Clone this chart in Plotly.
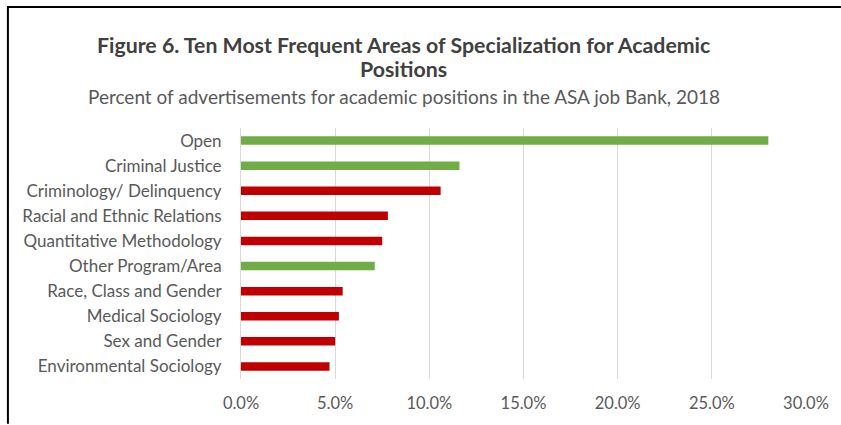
import plotly.graph_objects as go

categories = ["Open", "Criminal Justice", "Criminology/ Delinquency", "Racial and Ethnic Relations",
              "Quantitative Methodology", "Other Program/Area", "Race, Class and Gender",
              "Medical Sociology", "Sex and Gender", "Environmental Sociology"]
values = [28.0, 11.6, 10.6, 7.8, 7.5, 7.1, 5.4, 5.2, 5.0, 4.7]
groups = ["open", "open", "spec", "spec", "spec", "open", "spec", "spec", "spec", "spec"]
color_map = {"open": "#70AD47", "spec": "#C00000"}
tick_vals = [0, 5, 10, 15, 20, 25, 30]
tick_text = ["0.0%", "5.0%", "10.0%", "15.0%", "20.0%", "25.0%", "30.0%"]

W, H = 841, 425
L, R, T, B = 241, 34, 128, 44
ph = H - T - B

def py(ypix):
    return (H - B - ypix) / ph

def px(xpix):
    return (xpix - L) / (W - L - R)

fig = go.Figure(go.Bar(
    x=values, y=categories, orientation="h",
    marker=dict(color=[color_map[g] for g in groups], line=dict(width=0)),
    hoverinfo="skip",
))

font_fam = "Lato, 'Open Sans', sans-serif"
border_path = "M {a},{b} L {a},{c} L {d},{c}".format(a=px(7.5), b=py(426), c=py(6), d=px(842))
fig.update_layout(
    width=W, height=H,
    margin=dict(l=L, r=R, t=T, b=B),
    paper_bgcolor="white", plot_bgcolor="white",
    bargap=0.66,
    showlegend=False,
    font=dict(family=font_fam, color="#595959"),
    xaxis=dict(range=[0, 30], tickvals=tick_vals, ticktext=tick_text,
               showgrid=True, gridcolor="#D9D9D9", gridwidth=1,
               zeroline=False, showline=False, ticks="",
               tickfont=dict(size=16.5, color="#595959"), ticklabelstandoff=12,
               fixedrange=True),
    yaxis=dict(autorange="reversed", showgrid=False, zeroline=False,
               showline=True, linecolor="#D9D9D9", linewidth=1, ticks="",
               tickfont=dict(size=17, color="#595959"), ticklabelstandoff=15,
               fixedrange=True),
    annotations=[
        dict(text="<b>Figure 6. Ten Most Frequent Areas of Specialization for Academic</b>",
             xref="paper", yref="paper", x=px(404), y=py(44), xanchor="center", yanchor="middle",
             showarrow=False, font=dict(size=21.3, color="#404040", family=font_fam)),
        dict(text="<b>Positions</b>",
             xref="paper", yref="paper", x=px(404), y=py(68.5), xanchor="center", yanchor="middle",
             showarrow=False, font=dict(size=21.3, color="#404040", family=font_fam)),
        dict(text="Percent of advertisements for academic positions in the ASA job Bank, 2018",
             xref="paper", yref="paper", x=px(404), y=py(96), xanchor="center", yanchor="middle",
             showarrow=False, font=dict(size=19, color="#595959", family=font_fam)),
    ],
    shapes=[
        dict(type="path", xref="paper", yref="paper", path=border_path,
             line=dict(color="black", width=2), fillcolor="rgba(0,0,0,0)"),
    ],
)

fig.write_html("out.html", config={"displayModeBar": False, "staticPlot": True}, post_script=(
    "document.documentElement.style.margin='0';document.body.style.margin='0';"
    "document.body.style.padding='0';document.body.style.overflow='hidden';"
    "document.documentElement.style.overflow='hidden';"))
